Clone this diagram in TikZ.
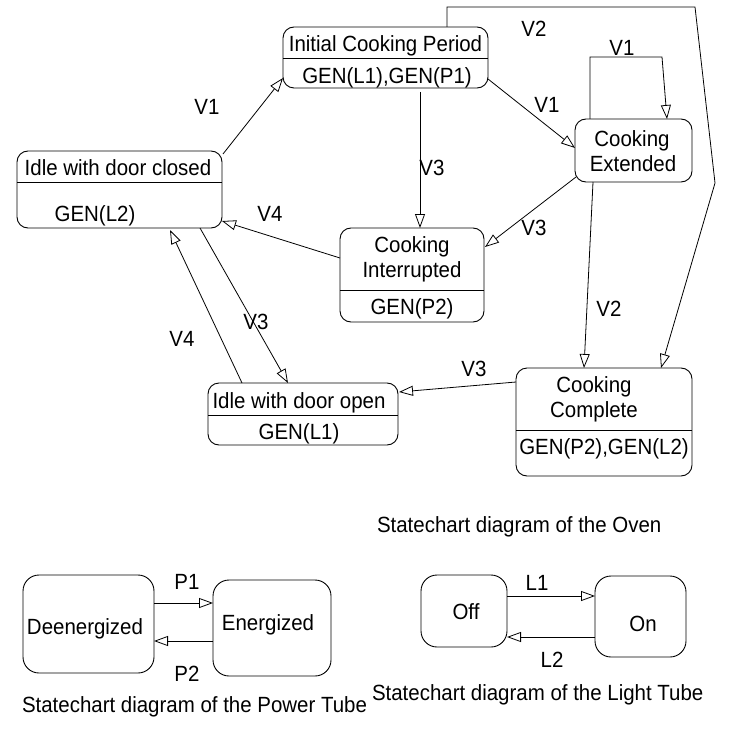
\documentclass[tikz,border=0pt]{standalone}
\usepackage{fontspec}
\setmainfont[FakeStretch=0.93]{Liberation Sans}
\usetikzlibrary{arrows.meta,calc}
\begin{document}
\begin{tikzpicture}[x=1pt,y=-1pt,
  state/.style={draw, line width=0.9pt, rounded corners=11pt, inner sep=0pt, outer sep=0pt},
  smallstate/.style={state, rounded corners=16pt},
  txt/.style={inner sep=0pt, outer sep=0pt, text height=15.7pt, text depth=0pt,
              font=\fontsize{22}{26}\selectfont},
  tr/.style={line width=0.8pt, -{Triangle[open, length=14pt, width=10pt]}},
  divider/.style={line width=0.9pt}]
\useasboundingbox (0,0) rectangle (728,730);

% ---------- Oven states ----------
\node[state, minimum width=205pt, minimum height=61pt]  (icp)   at (385.5,57.5) {};
\node[state, minimum width=205pt, minimum height=77pt]  (idc)   at (119.5,189.5) {};
\node[state, minimum width=117pt, minimum height=63pt]  (cext)  at (633.5,150.5) {};
\node[state, minimum width=144pt, minimum height=94pt]  (cint)  at (412,275) {};
\node[state, minimum width=190pt, minimum height=62pt]  (ido)   at (303,414) {};
\node[state, minimum width=176pt, minimum height=108pt] (ccomp) at (604,422) {};

% compartment dividers
\draw[divider] ($(icp.north west)+(0,31)$)   -- ($(icp.north east)+(0,31)$);
\draw[divider] ($(idc.north west)+(0,31)$)   -- ($(idc.north east)+(0,31)$);
\draw[divider] ($(cint.north west)+(0,62)$)  -- ($(cint.north east)+(0,62)$);
\draw[divider] ($(ido.north west)+(0,32)$)   -- ($(ido.north east)+(0,32)$);
\draw[divider] ($(ccomp.north west)+(0,62)$) -- ($(ccomp.north east)+(0,62)$);

% state texts
\node[txt] (icpT)  at (385.5,44) {Initial Cooking Period};
\node[txt] (icpA)  at (387,76)   {GEN(L1),GEN(P1)};
\node[txt] (idcT)  at (118,168)  {Idle with door closed};
\node[txt] (idcA)  at (95,214)   {GEN(L2)};
\node[txt] (cextT) at (632,139)  {Cooking};
\node[txt] (cextU) at (633,164)  {Extended};
\node[txt] (cintT) at (412,245)  {Cooking};
\node[txt] (cintU) at (412,270)  {Interrupted};
\node[txt] (cintA) at (412,307)  {GEN(P2)};
\node[txt] (idoT)  at (299,401)  {Idle with door open};
\node[txt] (idoA)  at (299,432)  {GEN(L1)};
\node[txt] (ccT)   at (594,385)  {Cooking};
\node[txt] (ccU)   at (594,410)  {Complete};
\node[txt] (ccA)   at (604,447)  {GEN(P2),GEN(L2)};

% ---------- Oven transitions ----------
\draw[tr] ($(idc.north east)+(1,3)$) -- ($(icp.south west)+(0,-10)$);
\draw[tr] ($(icp.south east)+(0,-9)$) -- ($(cext.north west)+(0,29)$);
\draw[tr] ($(cext.north west)+(15,0)$) -- ++(0,-62) -- ++(72,0) -- ($(cext.north west)+(92,0)$);
\draw[tr] ($(icp.north west)+(164,0)$) -- ++(0,-20) -- ++(248,0) -- ++(20,176) -- ($(ccomp.north west)+(145,0)$);
\draw[tr] ($(cext.south west)+(18,0)$) -- ($(ccomp.north west)+(68,0)$);
\draw[tr] ($(icp.south west)+(137,4)$) -- ($(cint.north west)+(80,0)$);
\draw[tr] ($(cext.south west)+(1,-5)$) -- ($(cint.north east)+(1,19)$);
\draw[tr] ($(cint.north west)+(0,30)$) -- ($(idc.south east)+(0,-7)$);
\draw[tr] ($(idc.south west)+(183,0)$) -- ($(ido.north west)+(80,0)$);
\draw[tr] ($(ido.north west)+(34,0)$) -- ($(idc.south west)+(153,2)$);
\draw[tr] ($(ccomp.north west)+(0,14)$) -- ($(ido.north east)+(1,9)$);

% transition labels
\node[txt] (lV1a) at (207,107) {V1};
\node[txt] (lV1b) at (547,105) {V1};
\node[txt] (lV1c) at (622,48)  {V1};
\node[txt] (lV2a) at (534,29)  {V2};
\node[txt] (lV2b) at (609,309) {V2};
\node[txt] (lV3a) at (432,168) {V3};
\node[txt] (lV3b) at (534,228) {V3};
\node[txt] (lV4a) at (270,214) {V4};
\node[txt] (lV3c) at (256,322) {V3};
\node[txt] (lV4b) at (182,339) {V4};
\node[txt] (lV3d) at (474,369) {V3};

\node[txt, anchor=west] (capOven) at (377,525) {Statechart diagram of the Oven};

% ---------- Power tube ----------
\node[smallstate, minimum width=131pt, minimum height=98pt] (deen) at (88.5,624) {};
\node[smallstate, minimum width=118pt, minimum height=96pt] (ener) at (272,628) {};
\node[txt] (deenT) at (85,627)  {Deenergized};
\node[txt] (enerT) at (268,623) {Energized};
\draw[tr] ($(deen.north east)+(0,28)$) -- ($(ener.north west)+(0,23)$);
\draw[tr] ($(ener.north west)+(0,61)$) -- ($(deen.north east)+(0,66)$);
\node[txt] (lP1) at (187,582) {P1};
\node[txt] (lP2) at (187,674) {P2};
\node[txt, anchor=west] (capPower) at (22,705) {Statechart diagram of the Power Tube};

% ---------- Light tube ----------
\node[smallstate, minimum width=86pt, minimum height=72pt] (off) at (464,611) {};
\node[smallstate, minimum width=91pt, minimum height=81pt] (on)  at (640.5,616.5) {};
\node[txt] (offT) at (466,612) {Off};
\node[txt] (onT)  at (643,624) {On};
\draw[tr] ($(off.north east)+(0,21)$) -- ($(on.north west)+(0,20)$);
\draw[tr] ($(on.north west)+(0,61)$) -- ($(off.north east)+(0,62)$);
\node[txt] (lL1) at (537,583) {L1};
\node[txt] (lL2) at (552,660) {L2};
\node[txt, anchor=west] (capLight) at (372,693) {Statechart diagram of the Light Tube};
\end{tikzpicture}
\end{document}
